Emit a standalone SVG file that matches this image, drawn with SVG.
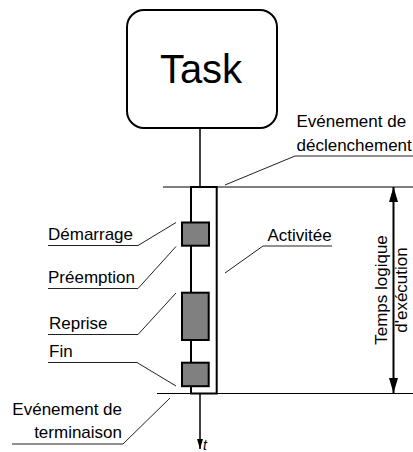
<svg xmlns="http://www.w3.org/2000/svg" width="413" height="452" viewBox="0 0 413 452">
<style>
text{font-family:"Liberation Sans",Arial,sans-serif;font-size:17px;fill:#000}
.lead{stroke:#222;stroke-width:1;fill:none}
.ext{stroke:#000;stroke-width:1;fill:none}
.blk{fill:#808080;stroke:#000;stroke-width:2}
</style>
<defs>
<marker id="ah" viewBox="0 0 15 9" refX="15" refY="4.5" markerWidth="15" markerHeight="9" markerUnits="userSpaceOnUse" orient="auto"><path d="M0,0 L15,4.5 L0,9 Z" fill="#000"/></marker>
<marker id="ahs" viewBox="0 0 10 6" refX="10" refY="3" markerWidth="10" markerHeight="6" markerUnits="userSpaceOnUse" orient="auto"><path d="M0,0 L10,3 L0,6 Z" fill="#000"/></marker>
</defs>
<g id="task">
<rect x="127" y="10" width="150" height="118" rx="17" fill="#fff" stroke="#000" stroke-width="2"/>
<text x="201" y="83" text-anchor="middle" style="font-size:40px">Task</text>
</g>
<g id="connectors">
<line class="ext" x1="163" y1="187" x2="413" y2="187"/>
<line class="ext" x1="157" y1="393.5" x2="413" y2="393.5"/>
<line x1="200" y1="128" x2="200" y2="187" stroke="#000" stroke-width="1.5"/>
<line x1="200" y1="394" x2="200" y2="449" stroke="#000" stroke-width="1.5" marker-end="url(#ahs)"/>
<line x1="393.5" y1="290" x2="393.5" y2="187" stroke="#000" stroke-width="2" marker-end="url(#ah)"/>
<line x1="393.5" y1="290" x2="393.5" y2="393" stroke="#000" stroke-width="2" marker-end="url(#ah)"/>
<polyline class="lead" points="413,156 295,156 225,185"/>
<polyline class="lead" points="332,246 263,246 225,273"/>
<polyline class="lead" points="48,245.5 138,245.5 176,222.5"/>
<polyline class="lead" points="48,288.5 138,288.5 176,246.5"/>
<polyline class="lead" points="48,334.5 138,334.5 176,293"/>
<polyline class="lead" points="48,362.5 137,362.5 176,386"/>
<polyline class="lead" points="12,444 123,444 170,398"/>
</g>
<g id="activity">
<rect x="191" y="187" width="25.7" height="206.5" fill="none" stroke="#000" stroke-width="2"/>
<rect class="blk" x="182" y="222.5" width="27" height="23.2"/>
<rect class="blk" x="182" y="292.7" width="26.7" height="47.3"/>
<rect class="blk" x="182" y="362.7" width="26.7" height="23.5"/>
</g>
<g id="labels">
<text x="296.5" y="127">Evénement de</text>
<text x="296.5" y="151">déclenchement</text>
<text x="267.5" y="240.5">Activitée</text>
<text x="48" y="240">Démarrage</text>
<text x="48" y="283">Préemption</text>
<text x="49" y="329">Reprise</text>
<text x="49" y="357">Fin</text>
<text x="122" y="415" text-anchor="end">Evénement de</text>
<text x="122" y="438" text-anchor="end">terminaison</text>
<text x="203" y="450" style="font-size:14px;font-style:italic">t</text>
<text transform="translate(387,290) rotate(-90)" text-anchor="middle">Temps logique</text>
<text transform="translate(407,290) rotate(-90)" text-anchor="middle">d'exécution</text>
</g>
</svg>
